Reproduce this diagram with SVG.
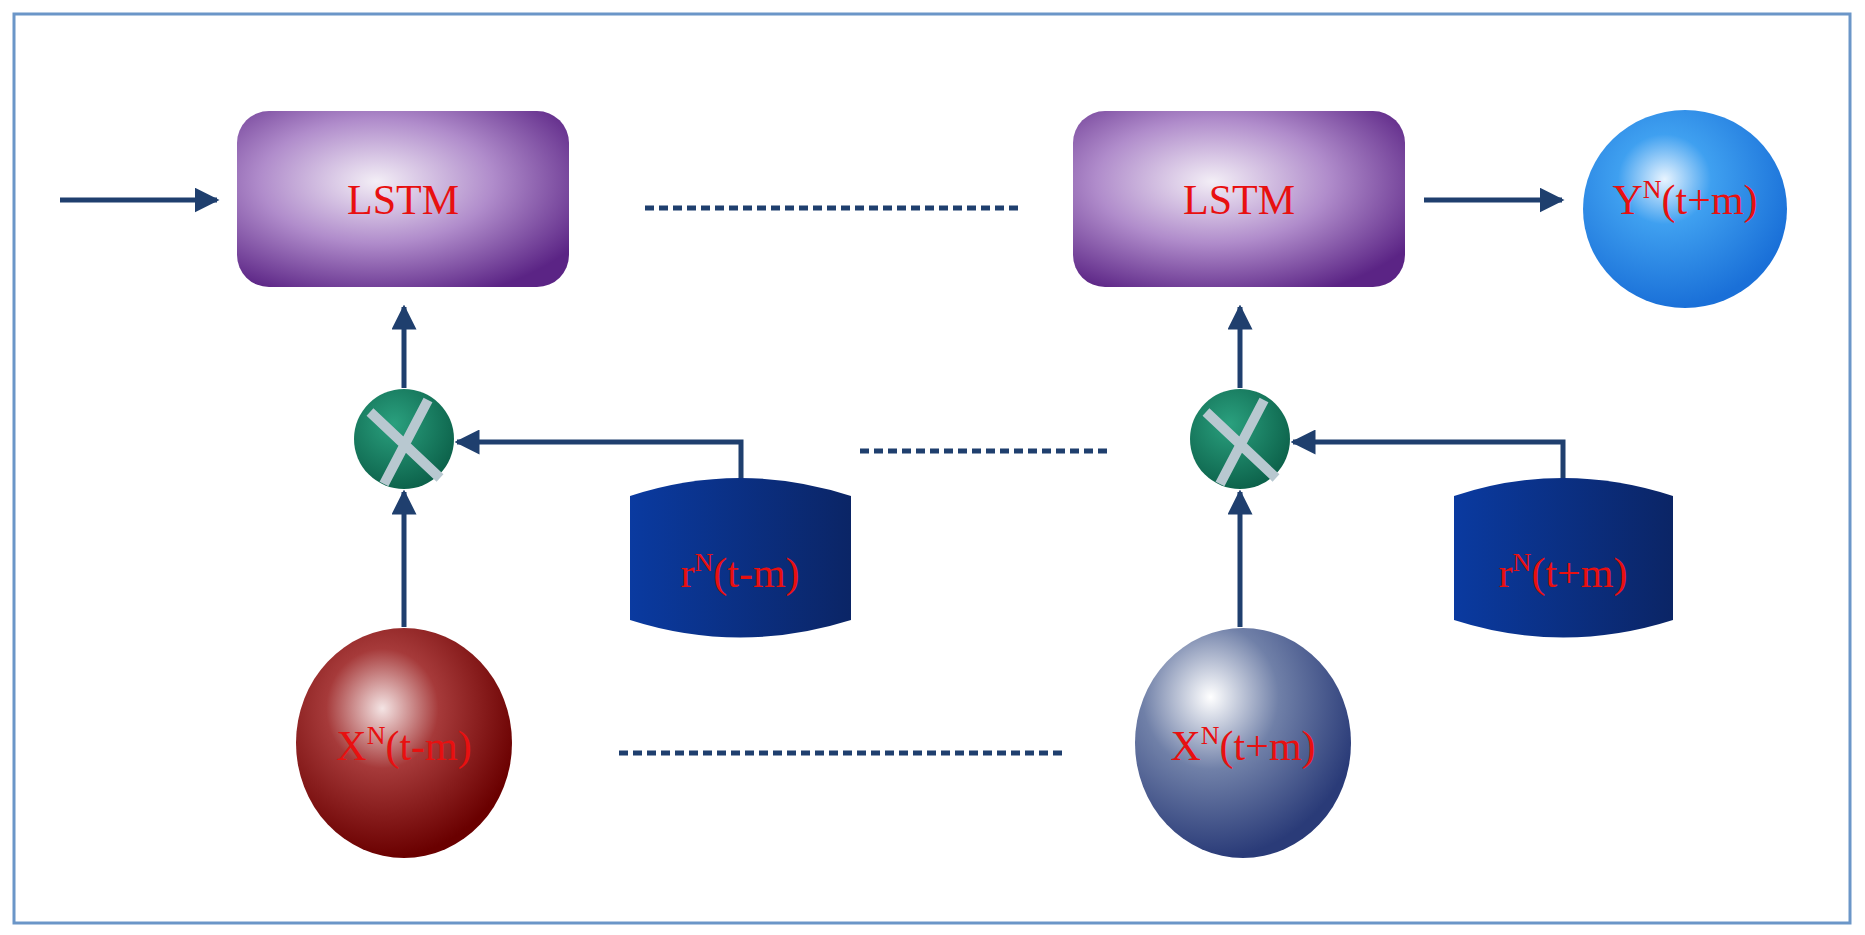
<svg xmlns="http://www.w3.org/2000/svg" width="1865" height="935" viewBox="0 0 1865 935">
<style>
.t{font-family:"Liberation Serif",serif;fill:#e81010;text-anchor:middle}
.ln{stroke:#1f3f6e;stroke-width:5;fill:none}
.dot{stroke:#1f3f6e;stroke-width:5;stroke-dasharray:9 5;fill:none}
</style>
<defs>
<marker id="ah" viewBox="0 0 10 10" refX="9" refY="5" markerWidth="5" markerHeight="5" orient="auto"><path d="M0,0 L10,5 L0,10 z" fill="#1f3f6e"/></marker>
<radialGradient id="gL" cx="0.42" cy="0.4" r="0.7"><stop offset="0" stop-color="#f3eef6"/><stop offset="0.5" stop-color="#b08ccb"/><stop offset="1" stop-color="#5b2485"/></radialGradient>
<radialGradient id="gY" cx="0.4" cy="0.35" r="0.65"><stop offset="0" stop-color="#e8f4ff"/><stop offset="0.35" stop-color="#3fa0f0"/><stop offset="1" stop-color="#1a70d8"/></radialGradient>
<radialGradient id="gR" cx="0.4" cy="0.35" r="0.65"><stop offset="0" stop-color="#f4e4e4"/><stop offset="0.4" stop-color="#a63a3a"/><stop offset="1" stop-color="#6a0000"/></radialGradient>
<radialGradient id="gB" cx="0.35" cy="0.3" r="0.7"><stop offset="0" stop-color="#ffffff"/><stop offset="0.45" stop-color="#7080a8"/><stop offset="1" stop-color="#2a3b78"/></radialGradient>
<linearGradient id="gC" x1="0" x2="1"><stop offset="0" stop-color="#0a3aa0"/><stop offset="1" stop-color="#0b2566"/></linearGradient>
<radialGradient id="gM" cx="0.4" cy="0.35" r="0.7"><stop offset="0" stop-color="#2aa07e"/><stop offset="1" stop-color="#0b5f48"/></radialGradient>
</defs>
<rect x="14" y="14" width="1836" height="909" fill="#fff" stroke="#6b96c8" stroke-width="3"/>
<g id="connectors">
<line class="ln" x1="60" y1="200" x2="217" y2="200" marker-end="url(#ah)"/>
<line class="ln" x1="1424" y1="200" x2="1562" y2="200" marker-end="url(#ah)"/>
<line class="ln" x1="404" y1="388" x2="404" y2="307" marker-end="url(#ah)"/>
<line class="ln" x1="1240" y1="388" x2="1240" y2="307" marker-end="url(#ah)"/>
<line class="ln" x1="404" y1="627" x2="404" y2="492" marker-end="url(#ah)"/>
<line class="ln" x1="1240" y1="627" x2="1240" y2="492" marker-end="url(#ah)"/>
<polyline class="ln" points="741,488 741,442 457,442" marker-end="url(#ah)"/>
<polyline class="ln" points="1563,488 1563,442 1293,442" marker-end="url(#ah)"/>
<line class="dot" x1="645" y1="208" x2="1023" y2="208"/>
<line class="dot" x1="860" y1="451" x2="1111" y2="451"/>
<line class="dot" x1="619" y1="753" x2="1064" y2="753"/>
</g>
<g id="lstm1"><rect x="237" y="111" width="332" height="176" rx="32" fill="url(#gL)"/><text class="t" x="403" y="214" font-size="42">LSTM</text></g>
<g id="lstm2"><rect x="1073" y="111" width="332" height="176" rx="32" fill="url(#gL)"/><text class="t" x="1239" y="214" font-size="42">LSTM</text></g>
<g id="y"><ellipse cx="1685" cy="209" rx="102" ry="99" fill="url(#gY)"/><text class="t" x="1685" y="214" font-size="42">Y<tspan font-size="26" dy="-16">N</tspan><tspan dy="16">(t+m)</tspan></text></g>
<g id="mul1"><circle cx="404" cy="439" r="50" fill="url(#gM)"/><path d="M370,412 L440,478 M428,400 L384,484" stroke="#b8c8d0" stroke-width="10"/></g>
<g id="mul2"><circle cx="1240" cy="439" r="50" fill="url(#gM)"/><path d="M1206,412 L1276,478 M1264,400 L1220,484" stroke="#b8c8d0" stroke-width="10"/></g>
<g id="r1"><path d="M630,496 Q740,460 851,496 L851,620 Q740,655 630,620 Z" fill="url(#gC)"/><text class="t" x="740" y="587" font-size="42">r<tspan font-size="26" dy="-16">N</tspan><tspan dy="16">(t-m)</tspan></text></g>
<g id="r2"><path d="M1454,496 Q1563,460 1673,496 L1673,620 Q1563,655 1454,620 Z" fill="url(#gC)"/><text class="t" x="1563" y="587" font-size="42">r<tspan font-size="26" dy="-16">N</tspan><tspan dy="16">(t+m)</tspan></text></g>
<g id="x1"><ellipse cx="404" cy="743" rx="108" ry="115" fill="url(#gR)"/><text class="t" x="404" y="760" font-size="42">X<tspan font-size="26" dy="-16">N</tspan><tspan dy="16">(t-m)</tspan></text></g>
<g id="x2"><ellipse cx="1243" cy="743" rx="108" ry="115" fill="url(#gB)"/><text class="t" x="1243" y="760" font-size="42">X<tspan font-size="26" dy="-16">N</tspan><tspan dy="16">(t+m)</tspan></text></g>
</svg>
